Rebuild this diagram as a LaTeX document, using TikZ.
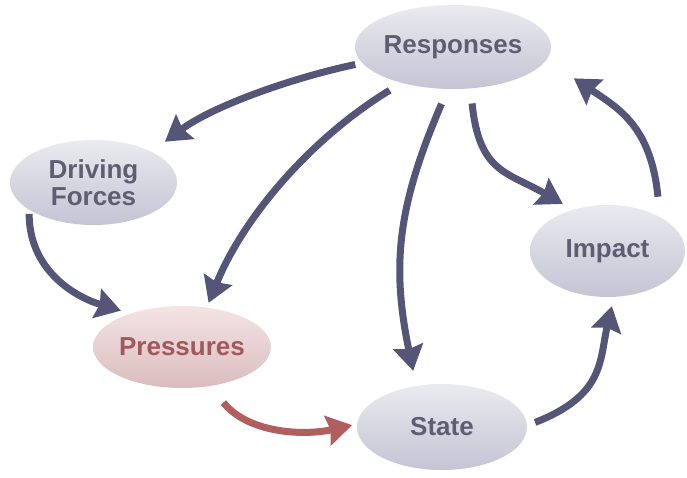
\documentclass[tikz,border=0pt]{standalone}
\usepackage{fontspec}
\setmainfont{Liberation Sans}
\usetikzlibrary{shapes.geometric,arrows.meta}
\definecolor{txtgray}{RGB}{94,94,114}
\definecolor{bubtop}{RGB}{234,234,240}
\definecolor{bubbot}{RGB}{196,196,212}
\definecolor{prtop}{RGB}{244,228,228}
\definecolor{prbot}{RGB}{218,188,190}
\definecolor{prtxt}{RGB}{160,88,92}
\definecolor{arrcol}{RGB}{85,85,120}
\definecolor{redarr}{RGB}{176,94,94}
\begin{document}
\begin{tikzpicture}[x=1pt,y=-1pt,
  bub/.style={ellipse, inner sep=0pt, top color=bubtop, bottom color=bubbot, text=txtgray,
    font=\fontsize{26}{27}\selectfont\bfseries, align=center},
  prbub/.style={bub, top color=prtop, bottom color=prbot, text=prtxt},
  arr/.style={line width=7pt, draw=arrcol, -{Stealth[length=25pt,width=30pt,inset=3pt]}},
  redarrow/.style={arr, draw=redarr}
]
\useasboundingbox (0,0) rectangle (687,477);
\fill[white] (0,0) rectangle (687,477);
\node[bub, minimum width=160pt, minimum height=84pt] (resp) at (453,47) {Responses};
\node[bub, minimum width=167pt, minimum height=85pt] (drv) at (93.5,182.5) {Driving\\Forces};
\node[prbub, minimum width=172pt, minimum height=82pt] (pres) at (182,347) {Pressures};
\node[bub, minimum width=170pt, minimum height=86pt] (state) at (442,427) {State};
\node[bub, minimum width=155pt, minimum height=92pt] (imp) at (607.5,251) {Impact};

\draw[arr, shorten <=7pt, shorten >=16.7pt] (resp.190) .. controls (291.6,78) and (213,106) .. (drv.28);
\draw[arr, shorten <=14pt, shorten >=5pt] (resp.215) .. controls (312.3,137.4) and (244.1,215.6) .. (pres.58);
\draw[arr, shorten <=16pt, shorten >=15.3pt] (resp.263) .. controls (398,205.2) and (391,264.2) .. (state.122);
\draw[arr, shorten <=15pt, shorten >=11.5pt] (resp.293) .. controls (479,172.7) and (507.1,171.8) .. (imp.130);
\draw[arr, shorten <=20.3pt, shorten >=32.9pt] (imp.33) .. controls (651,127.35) and (619.9,109) .. (resp.352);
\draw[arr, shorten <=4pt, shorten >=9.8pt] (drv.203) .. controls (29,268) and (72,296) .. (pres.147);
\draw[redarrow, shorten <=21pt, shorten >=5pt] (pres.306) .. controls (247.8,433.2) and (303.5,436) .. (state.178);
\draw[arr, shorten <=8.5pt, shorten >=9.4pt] (state.1) .. controls (604.75,395.25) and (599.35,360.35) .. (imp.278);
\end{tikzpicture}
\end{document}
